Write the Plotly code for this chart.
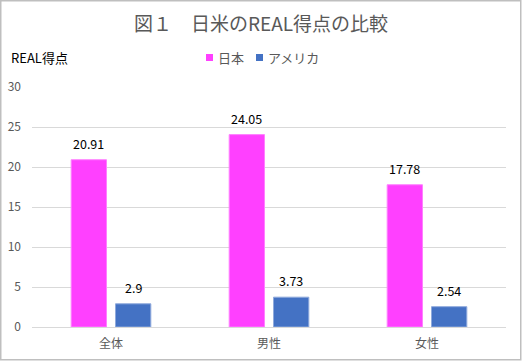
import plotly.graph_objects as go

categories = ["全体", "男性", "女性"]
japan = [20.91, 24.05, 17.78]
usa = [2.9, 3.73, 2.54]
series_names = ["日本", "アメリカ"]
series_colors = ["#FF40FF", "#4472C4"]
y_ticks = [0, 5, 10, 15, 20, 25, 30]

FONT = "Noto Sans CJK JP"
W, H = 522, 361
ML, MR, MT, MB = 32, 16, 87, 34
pw, ph = W - ML - MR, H - MT - MB
BARGAP, GROUPGAP = 0.439, 0.203


def px_x(p):
    return (p - ML) / pw


def px_y(p):
    return (MT + ph - p) / ph


fig = go.Figure()
for name, vals, col, edge in [(series_names[0], japan, series_colors[0], "#FF80FF"),
                              (series_names[1], usa, series_colors[1], "#8FAADC")]:
    fig.add_trace(go.Bar(
        name=name, x=categories, y=vals,
        marker=dict(color=col, line=dict(color=edge, width=1)),
        showlegend=False,
    ))

# data labels
slot = pw / len(categories) * (1 - BARGAP) / 2
for vals, off in [(japan, -slot / 2), (usa, slot / 2)]:
    for c, v in zip(categories, vals):
        fig.add_annotation(x=c, y=v, xref="x", yref="y", text=f"{v:g}",
                           showarrow=False, xshift=off, yshift=5,
                           yanchor="bottom", xanchor="center",
                           font=dict(size=12.5, color="#000000", family=FONT))

fig.update_layout(
    width=W, height=H,
    margin=dict(l=ML, r=MR, t=MT, b=MB, autoexpand=False),
    paper_bgcolor="white", plot_bgcolor="white",
    font=dict(family=FONT, color="#595959", size=12),
    barmode="group", bargap=BARGAP, bargroupgap=GROUPGAP,
    title=dict(text="図１　日米のREAL得点の比較", x=0.5, xanchor="center",
               xref="container",
               y=1 - 24 / H, yanchor="middle",
               font=dict(size=19, color="#595959", family=FONT)),
    showlegend=False,
)
fig.update_xaxes(showgrid=False, showline=False, ticks="",
                 ticklabelstandoff=8,
                 tickfont=dict(size=12, color="#595959"))
fig.update_yaxes(range=[0, 30], tickvals=y_ticks, showgrid=True,
                 gridcolor="#D9D9D9", gridwidth=1, zeroline=True,
                 zerolinecolor="#D9D9D9", zerolinewidth=1,
                 showline=False, ticks="", ticklabelstandoff=10,
                 tickfont=dict(size=12, color="#595959"))

# axis title
fig.add_annotation(text="REAL得点", xref="paper", yref="paper",
                   x=px_x(9), y=px_y(57),
                   xanchor="left", yanchor="middle", showarrow=False,
                   font=dict(size=13, color="#000000", family=FONT))

# legend (squares + labels)
legend_pos = [206, 256]
for name, col, lx in zip(series_names, series_colors, legend_pos):
    fig.add_shape(type="rect", xref="paper", yref="paper",
                  x0=px_x(lx), x1=px_x(lx + 7), y0=px_y(61), y1=px_y(54),
                  line=dict(width=0), fillcolor=col)
    fig.add_annotation(text=name, xref="paper", yref="paper",
                       x=px_x(lx + 10), y=px_y(57.5), xanchor="left",
                       yanchor="middle", showarrow=False,
                       font=dict(size=13, color="#595959", family=FONT))

# outer border of the chart area
fig.add_shape(type="rect", xref="paper", yref="paper",
              x0=px_x(0.75), x1=px_x(W - 1.25),
              y0=px_y(H - 1.25), y1=px_y(0.75),
              line=dict(color="#BFBFBF", width=1.5), fillcolor="rgba(0,0,0,0)",
              layer="below")

fig.write_html("out.html",
               config={"displayModeBar": False},
               post_script="document.body.style.margin='0';"
                           "document.body.style.overflow='hidden';")
